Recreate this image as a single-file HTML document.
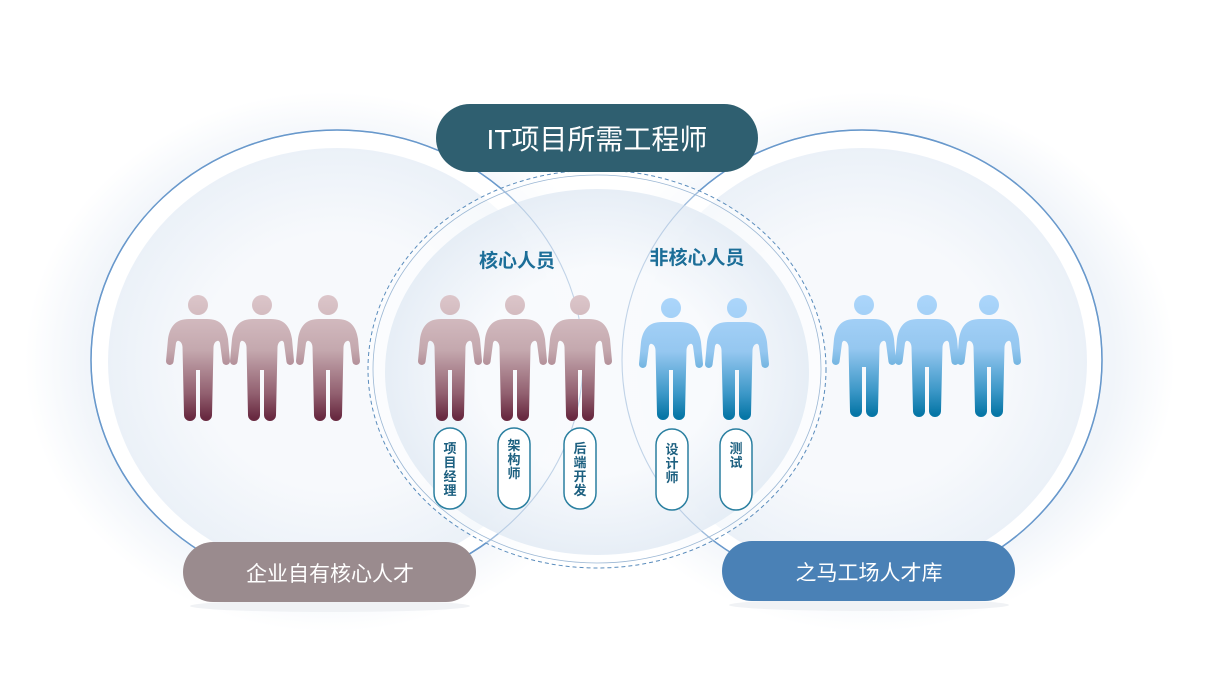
<!DOCTYPE html>
<html><head><meta charset="utf-8"><style>
html,body{margin:0;padding:0;background:#fff;}
svg{display:block;}
text{font-family:"Liberation Sans","Noto Sans CJK SC",sans-serif;}
</style></head><body>
<svg width="1205" height="687" viewBox="0 0 1205 687" xmlns="http://www.w3.org/2000/svg">
<defs>
<linearGradient id="gr" gradientUnits="userSpaceOnUse" x1="0" y1="0" x2="0" y2="123">
<stop offset="0" stop-color="#dcc6ca"/><stop offset="0.45" stop-color="#c4a8ae"/><stop offset="0.8" stop-color="#926070"/><stop offset="1" stop-color="#682940"/>
</linearGradient>
<linearGradient id="gb" gradientUnits="userSpaceOnUse" x1="0" y1="0" x2="0" y2="119">
<stop offset="0" stop-color="#acd6fb"/><stop offset="0.45" stop-color="#95c7f0"/><stop offset="0.8" stop-color="#3d98c8"/><stop offset="1" stop-color="#0676a6"/>
</linearGradient>
<radialGradient id="bg" cx="0.5" cy="0.5" r="0.5">
<stop offset="0.6" stop-color="#f7f9fc"/><stop offset="1" stop-color="#ebf1f8"/>
</radialGradient>
<radialGradient id="cbg" cx="0.5" cy="0.5" r="0.5">
<stop offset="0.55" stop-color="#f8fafd"/><stop offset="1" stop-color="#e4ecf5"/>
</radialGradient>
<radialGradient id="glow" cx="0.5" cy="0.5" r="0.5">
<stop offset="0.8" stop-color="#f1f5fa"/><stop offset="1" stop-color="#ffffff"/>
</radialGradient>
<g id="pr"><circle cx="0" cy="10" r="10" fill="url(#gr)"/><path fill="url(#gr)" d="M -9,24 H 9 C 22,24 28,31 30,44 L 32,66 A3.8,3.8 0 0 1 24.5,67 L 22,48 Q 21,45 19,46 Q 16,47 15.5,52 L 14,120 A6,6 0 0 1 2,120 L 2,75 L -2,75 L -2,120 A6,6 0 0 1 -14,120 L -15.5,52 Q -16,47 -19,46 Q -21,45 -22,48 L -24.5,67 A3.8,3.8 0 0 1 -32,66 L -30,44 C -28,31 -22,24 -9,24 Z"/></g>
<g id="pb"><circle cx="0" cy="10" r="10" fill="url(#gb)"/><path fill="url(#gb)" d="M -9,24 H 9 C 22,24 28,31 30,44 L 32,66 A3.8,3.8 0 0 1 24.5,67 L 22,48 Q 21,45 19,46 Q 16,47 15.5,52 L 14,116 A6,6 0 0 1 2,116 L 2,72 L -2,72 L -2,116 A6,6 0 0 1 -14,116 L -15.5,52 Q -16,47 -19,46 Q -21,45 -22,48 L -24.5,67 A3.8,3.8 0 0 1 -32,66 L -30,44 C -28,31 -22,24 -9,24 Z"/></g>
</defs>
<rect width="1205" height="687" fill="#fff"/>
<ellipse cx="330" cy="362" rx="305" ry="270" fill="url(#glow)"/>
<ellipse cx="870" cy="362" rx="305" ry="270" fill="url(#glow)"/>
<ellipse cx="337" cy="360" rx="246" ry="230" fill="#fff" stroke="#4a86c5" stroke-width="1.5"/>
<ellipse cx="862" cy="360" rx="240" ry="230" fill="#fff" stroke="#4a86c5" stroke-width="1.5"/>
<ellipse cx="337" cy="362" rx="229" ry="214" fill="url(#bg)"/>
<ellipse cx="862" cy="362" rx="225" ry="214" fill="url(#bg)"/>
<ellipse cx="597" cy="369" rx="229" ry="199" fill="#fff" fill-opacity="0.55" stroke="#5a8cbc" stroke-width="1" stroke-dasharray="4,3"/>
<ellipse cx="597" cy="369" rx="224" ry="194" fill="none" stroke="#9bb7d4" stroke-width="0.8"/>
<ellipse cx="597" cy="372" rx="212" ry="183" fill="url(#cbg)" fill-opacity="0.9"/>
<ellipse cx="337" cy="360" rx="246" ry="230" fill="none" stroke="#8fb0d4" stroke-width="1" opacity="0.5"/>
<ellipse cx="862" cy="360" rx="240" ry="230" fill="none" stroke="#8fb0d4" stroke-width="1" opacity="0.5"/>
<use href="#pr" x="198" y="295"/><use href="#pr" x="262" y="295"/><use href="#pr" x="328" y="295"/>
<use href="#pr" x="450" y="295"/><use href="#pr" x="515" y="295"/><use href="#pr" x="580" y="295"/>
<use href="#pb" x="671" y="298"/><use href="#pb" x="737" y="298"/>
<use href="#pb" x="864" y="295"/><use href="#pb" x="927" y="295"/><use href="#pb" x="989" y="295"/>
<text x="517" y="267" font-size="19" font-weight="bold" fill="#1c6e98" text-anchor="middle">核心人员</text>
<text x="697" y="264" font-size="19" font-weight="bold" fill="#1c6e98" text-anchor="middle">非核心人员</text>
<g fill="#fff" stroke="#2a7fa0" stroke-width="1.5">
<rect x="434" y="428" width="32" height="81" rx="16"/>
<rect x="498" y="428" width="32" height="81" rx="16"/>
<rect x="564" y="428" width="32" height="81" rx="16"/>
<rect x="656" y="429" width="32" height="81" rx="16"/>
<rect x="720" y="429" width="32" height="81" rx="16"/>
</g>
<g font-size="13" font-weight="bold" fill="#1d6080" text-anchor="middle">
<text x="450" y="453">项</text><text x="450" y="467">目</text><text x="450" y="481">经</text><text x="450" y="495">理</text>
<text x="514" y="450">架</text><text x="514" y="464">构</text><text x="514" y="478">师</text>
<text x="580" y="453">后</text><text x="580" y="467">端</text><text x="580" y="481">开</text><text x="580" y="495">发</text>
<text x="672" y="454">设</text><text x="672" y="468">计</text><text x="672" y="482">师</text>
<text x="736" y="453">测</text><text x="736" y="467">试</text>
</g>
<rect x="436" y="104" width="322" height="68" rx="34" fill="#2f5f70"/>
<text x="597" y="149" font-size="28" fill="#fff" text-anchor="middle">IT项目所需工程师</text>
<ellipse cx="330" cy="606" rx="140" ry="6" fill="#f0f2f5"/>
<rect x="183" y="542" width="293" height="60" rx="30" fill="#9a8b8e"/>
<text x="330" y="581" font-size="21" fill="#fff" text-anchor="middle">企业自有核心人才</text>
<ellipse cx="869" cy="605" rx="140" ry="6" fill="#f0f2f5"/>
<rect x="722" y="541" width="293" height="60" rx="30" fill="#4a81b6"/>
<text x="869" y="580" font-size="21" fill="#fff" text-anchor="middle">之马工场人才库</text>
</svg>
</body></html>
